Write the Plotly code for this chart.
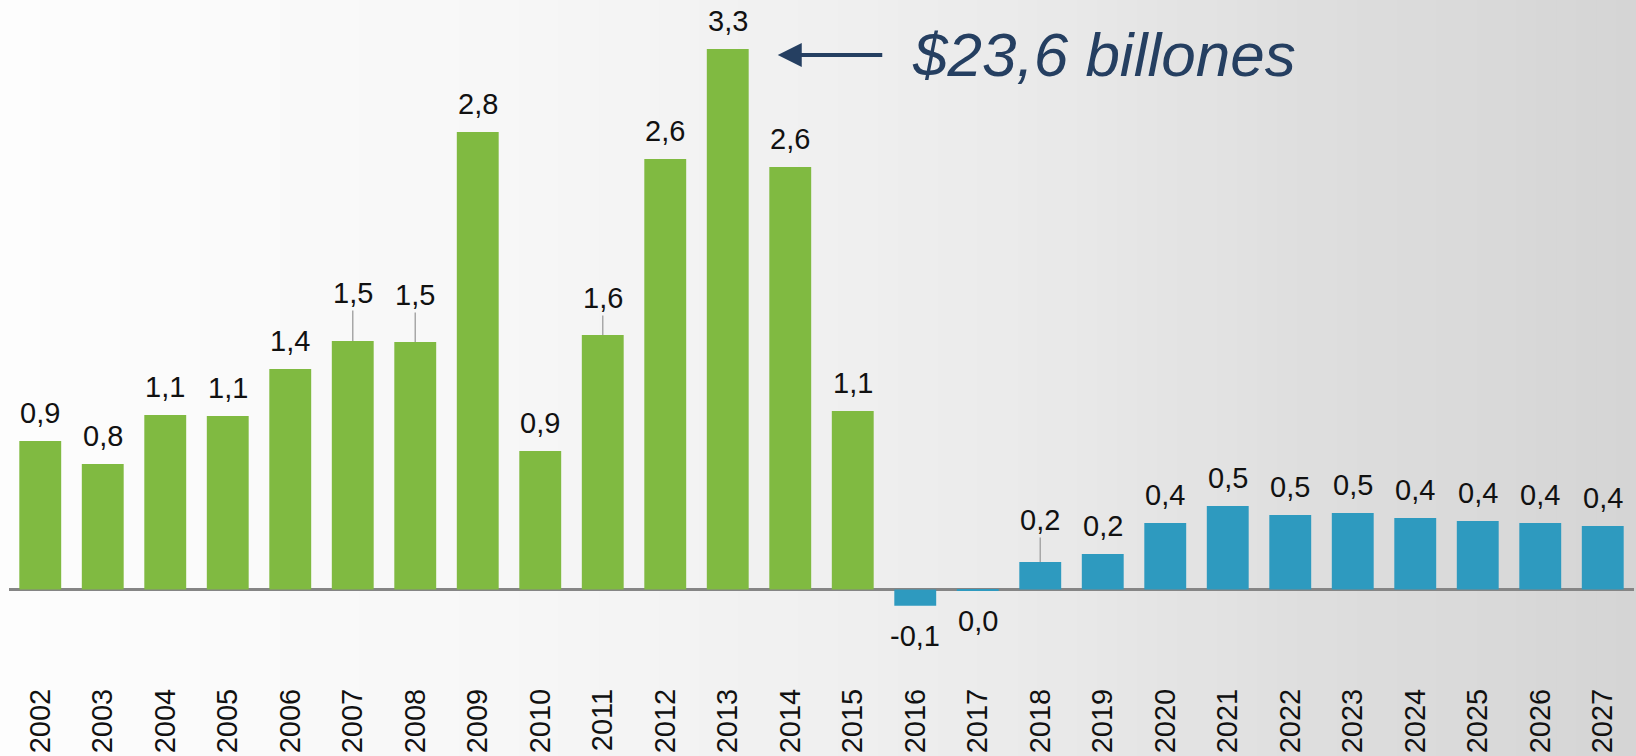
import plotly.graph_objects as go

years = [str(y) for y in range(2002, 2028)]
values = [0.907, 0.766, 1.065, 1.059, 1.346, 1.517, 1.511, 2.793, 0.846, 1.554,
          2.628, 3.300, 2.579, 1.090, -0.099, -0.008, 0.168, 0.217, 0.406, 0.510,
          0.455, 0.467, 0.437, 0.418, 0.406, 0.388]
labels = ["0,9", "0,8", "1,1", "1,1", "1,4", "1,5", "1,5", "2,8", "0,9", "1,6",
          "2,6", "3,3", "2,6", "1,1", "-0,1", "0,0", "0,2", "0,2", "0,4", "0,5",
          "0,5", "0,5", "0,4", "0,4", "0,4", "0,4"]
# leader-line offsets (px) for labels that were lifted
leader = {"2007": 48, "2008": 47, "2011": 37, "2018": 42}
total_text = "$23,6 billones"

GREEN = "#80BA41"
BLUE = "#2E9ABF"
colors = [GREEN if int(y) <= 2015 else BLUE for y in years]

W, H = 1636, 756
ML, MR, MT, MB = 9, 2, 0, 76

fig = go.Figure()
fig.add_trace(go.Bar(x=years, y=values, marker=dict(color=colors, line=dict(width=0)),
                     hoverinfo="x+y"))

# background gradient strips
def lerp(stops, t):
    for (t0, c0), (t1, c1) in zip(stops, stops[1:]):
        if t0 <= t <= t1:
            f = (t - t0) / (t1 - t0)
            return c0 + (c1 - c0) * f
    return stops[-1][1]

stops = [(0, 253), (0.3, 247), (0.5, 240), (0.65, 233), (0.8, 222), (1.0, 213)]
n = 82
pw = W - ML - MR
ph = H - MT - MB
shapes = []
for i in range(n):
    px0 = i * W / n
    px1 = (i + 1) * W / n + 1
    g = int(round(lerp(stops, (i + 0.5) / n)))
    shapes.append(dict(type="rect", xref="paper", yref="paper",
                       x0=(px0 - ML) / pw, x1=(px1 - ML) / pw,
                       y0=-MB / ph, y1=1.0 + MT / ph,
                       fillcolor=f"rgb({g},{g},{g})", line=dict(width=0),
                       layer="below"))

ann = []
lab_font = dict(family="Liberation Sans, Arial, sans-serif", size=29, color="#111111")
for i, (y, v, t) in enumerate(zip(years, values, labels)):
    if y in leader:
        ann.append(dict(x=i, y=v, text=t, showarrow=True, arrowhead=0, ax=0,
                        ay=-leader[y], arrowcolor="#a8a8a8", arrowwidth=1.5,
                        standoff=0, font=lab_font))
    elif v >= 0 and t != "0,0":
        ann.append(dict(x=i, y=v, text=t, showarrow=False, yanchor="middle",
                        yshift=28, font=lab_font))
    else:
        ann.append(dict(x=i, y=v, text=t, showarrow=False, yanchor="middle",
                        yshift=-30, font=lab_font))

peak = years.index("2013")
# arrow pointing to the peak bar
ann.append(dict(x=peak, y=values[peak], xshift=50, yshift=-6, text="", showarrow=True,
                arrowhead=2, arrowsize=1.2, arrowwidth=4, arrowcolor="#253F61",
                ax=106, ay=0, standoff=0))
ann.append(dict(x=peak, y=values[peak], xshift=182, yshift=-6, xanchor="left",
                yanchor="middle", text=total_text, showarrow=False,
                font=dict(family="Liberation Sans Narrow, Arial Narrow, Liberation Sans, Arial",
                          size=62, color="#253F61", style="italic")))

zero_px = 589.5
scale = 163.8
ytop = zero_px / scale
ybot = -(ph - zero_px) / scale

fig.update_layout(
    template="none",
    width=W, height=H, margin=dict(l=ML, r=MR, t=MT, b=MB, autoexpand=False),
    paper_bgcolor="white", plot_bgcolor="rgba(0,0,0,0)",
    bargap=0.33, showlegend=False, shapes=shapes, annotations=ann,
    xaxis=dict(type="category", range=[-0.5, 25.5], tickangle=-90, automargin=False,
               tickfont=dict(family="Liberation Sans, Arial, sans-serif", size=29, color="#111111"),
               showgrid=False, showline=False, zeroline=False, ticks="",
               ticklabelstandoff=2),
    yaxis=dict(range=[ybot, ytop], showgrid=False, showticklabels=False, automargin=False,
               zeroline=True, zerolinecolor="#858585", zerolinewidth=3,
               showline=False, ticks=""),
)

fig.write_html("out.html", config={"displayModeBar": False},
               post_script="document.body.style.margin='0';")
